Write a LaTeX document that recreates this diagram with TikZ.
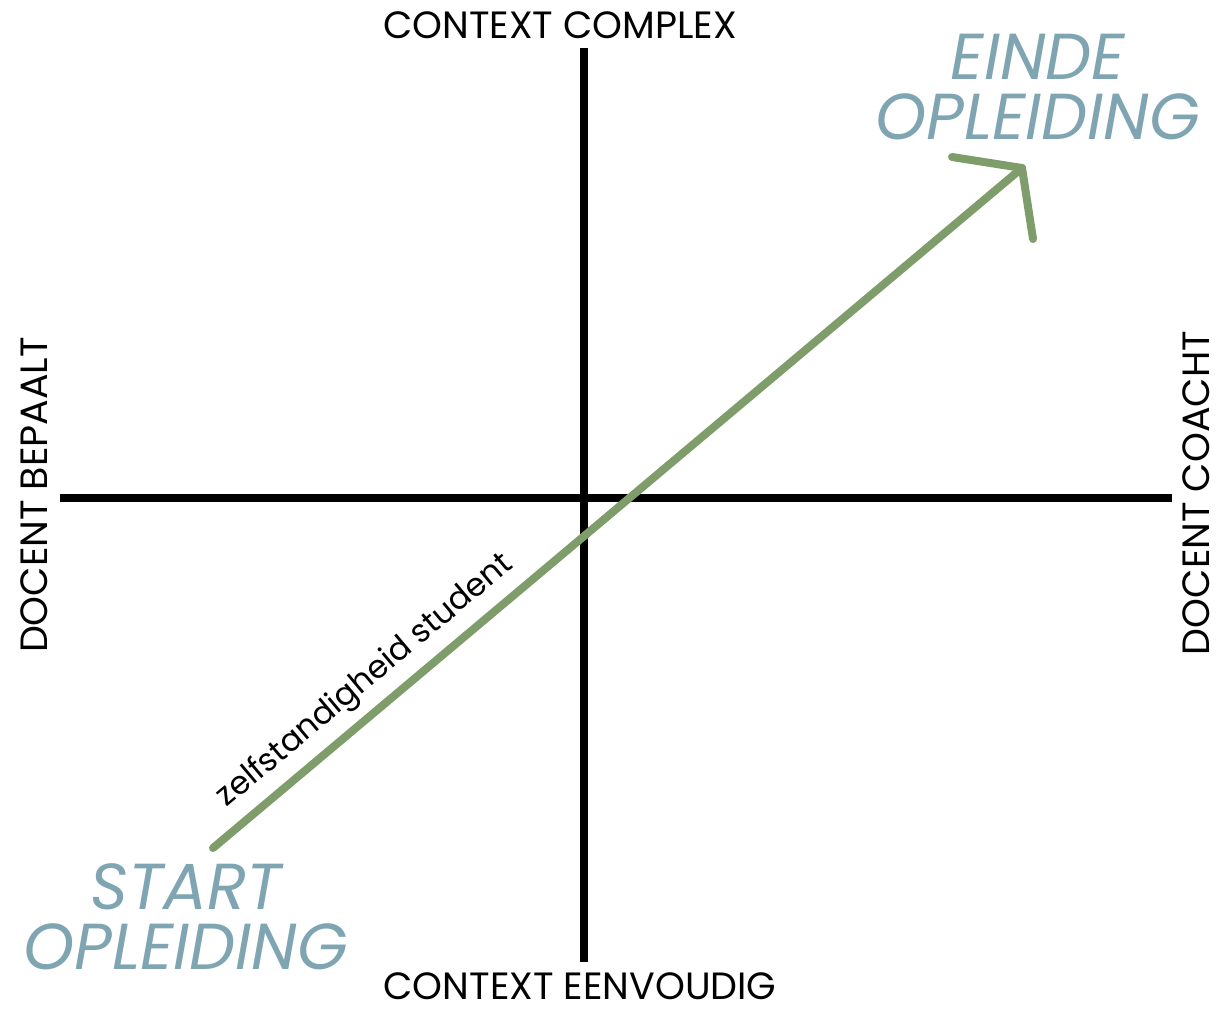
\documentclass[tikz,border=0pt]{standalone}
\usepackage{fontspec}
\setmainfont{Poppins}
\definecolor{arrowgreen}{HTML}{7F9D6B}
\definecolor{labelblue}{HTML}{7FA5B2}
\begin{document}
\begin{tikzpicture}[x=1pt,y=-1pt,
  axis/.style={line width=8pt,black},
  growth/.style={line width=8pt,arrowgreen,line cap=round},
  axislabel/.style={font=\fontsize{38}{38}\selectfont,inner sep=0pt},
  stagelabel/.style={font=\fontsize{65}{60}\selectfont\itshape,text=labelblue,align=center,inner sep=0pt},
  sidelabel/.style={font=\fontsize{38}{38}\selectfont,inner sep=0pt,rotate=90}]
\useasboundingbox (0,0) rectangle (1225,1010);
\fill[white] (0,0) rectangle (1225,1010);
% axes
\coordinate (vtop) at (584,48);
\coordinate (vbot) at (584,962);
\coordinate (hleft) at (60,498);
\coordinate (hright) at (1172,498);
\draw[axis] (vtop) -- (vbot);
\draw[axis] (hleft) -- (hright);
% axis labels
\node[axislabel] (ctop) at (560,25) {CONTEXT COMPLEX};
\node[axislabel] (cbot) at (580,986) {CONTEXT EENVOUDIG};
\node[sidelabel] (dleft) at (34,495) {DOCENT BEPAALT};
\node[sidelabel] (dright) at (1196,493) {DOCENT COACHT};
% growth arrow
\coordinate (start) at (213,848);
\coordinate (tip) at (1022,168);
\coordinate (barb1) at (952,157);
\coordinate (barb2) at (1033,239);
\draw[growth] (start) -- node[sloped,above=9pt,pos=0.212,font=\fontsize{32}{32}\selectfont,text=black,inner sep=0pt] (lab) {zelfstandigheid student} (tip);
\draw[growth,line join=round] (barb1) -- (tip) -- (barb2);
% stage labels
\node[stagelabel] (einde) at (1038,87) {EINDE\\OPLEIDING};
\node[stagelabel] (startlab) at (186,917) {START\\OPLEIDING};
\end{tikzpicture}
\end{document}
